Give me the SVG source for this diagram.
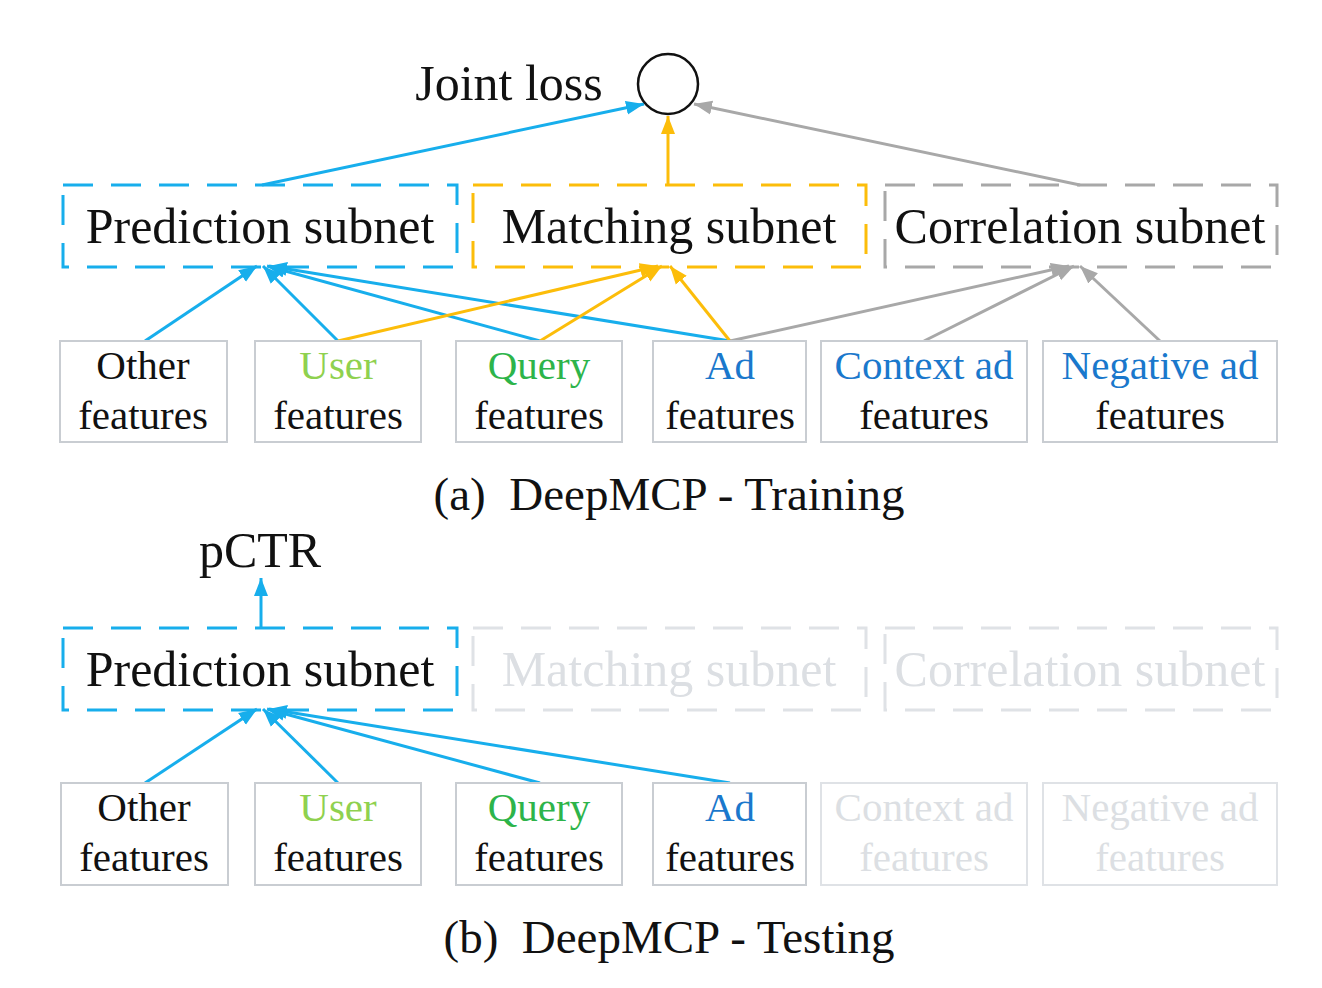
<svg xmlns="http://www.w3.org/2000/svg" width="1322" height="988" viewBox="0 0 1322 988">
<style>
text{font-family:"Liberation Serif","Times New Roman",serif;text-anchor:middle;fill:#111}
.big{font-size:50px}
.feat{font-size:41px}
.cap{font-size:47px}
.sub{fill:none;stroke-width:3;stroke-dasharray:30 18}
.fb{fill:#fff;stroke:#c9cdd2;stroke-width:2}
.fbg{fill:#fff;stroke:#dfe2e6;stroke-width:2}
.ghost{fill:#dcdfe3}
.b{stroke:#17aeec;stroke-width:3;fill:none}
.y{stroke:#fcbd0a;stroke-width:3;fill:none}
.g{stroke:#a8a8a8;stroke-width:3;fill:none}
</style>
<defs>
<marker id="ab" markerUnits="userSpaceOnUse" markerWidth="20" markerHeight="16" refX="18" refY="8" orient="auto"><path d="M0,1 L18,8 L0,15 Z" fill="#17aeec"/></marker>
<marker id="ay" markerUnits="userSpaceOnUse" markerWidth="20" markerHeight="16" refX="18" refY="8" orient="auto"><path d="M0,1 L18,8 L0,15 Z" fill="#fcbd0a"/></marker>
<marker id="ag" markerUnits="userSpaceOnUse" markerWidth="20" markerHeight="16" refX="18" refY="8" orient="auto"><path d="M0,1 L18,8 L0,15 Z" fill="#a8a8a8"/></marker>
</defs>
<rect width="1322" height="988" fill="#fff"/>

<g id="connectors">
<line class="b" x1="262" y1="185" x2="644" y2="104" marker-end="url(#ab)"/>
<line class="y" x1="668" y1="185" x2="668" y2="116" marker-end="url(#ay)"/>
<line class="g" x1="1080" y1="185" x2="694" y2="104" marker-end="url(#ag)"/>
<line class="b" x1="145" y1="341" x2="257" y2="266" marker-end="url(#ab)"/>
<line class="b" x1="338" y1="341" x2="263" y2="266" marker-end="url(#ab)"/>
<line class="b" x1="540" y1="341" x2="267" y2="266" marker-end="url(#ab)"/>
<line class="b" x1="730" y1="341" x2="269" y2="266" marker-end="url(#ab)"/>
<line class="y" x1="338" y1="341" x2="658" y2="266" marker-end="url(#ay)"/>
<line class="y" x1="540" y1="341" x2="662" y2="266" marker-end="url(#ay)"/>
<line class="y" x1="730" y1="341" x2="670" y2="266" marker-end="url(#ay)"/>
<line class="g" x1="730" y1="341" x2="1069" y2="266" marker-end="url(#ag)"/>
<line class="g" x1="924" y1="341" x2="1074" y2="266" marker-end="url(#ag)"/>
<line class="g" x1="1160" y1="341" x2="1080" y2="266" marker-end="url(#ag)"/>
<line class="b" x1="261" y1="628" x2="261" y2="578" marker-end="url(#ab)"/>
<line class="b" x1="145" y1="783" x2="257" y2="709" marker-end="url(#ab)"/>
<line class="b" x1="338" y1="783" x2="263" y2="709" marker-end="url(#ab)"/>
<line class="b" x1="540" y1="783" x2="267" y2="709" marker-end="url(#ab)"/>
<line class="b" x1="730" y1="783" x2="269" y2="709" marker-end="url(#ab)"/>
</g>

<g id="joint-loss">
<circle cx="668" cy="84" r="30" fill="#fff" stroke="#111" stroke-width="2.5"/>
<text class="big" x="509" y="100">Joint loss</text>
</g>

<g id="prediction-a"><rect class="sub" x="63" y="185" width="394" height="82" stroke="#17aeec"/><text class="big" x="260" y="243">Prediction subnet</text></g>
<g id="matching-a"><rect class="sub" x="473" y="185" width="393" height="82" stroke="#fcbd0a"/><text class="big" x="669" y="243">Matching subnet</text></g>
<g id="correlation-a"><rect class="sub" x="885" y="185" width="392" height="82" stroke="#a8a8a8"/><text class="big" x="1080" y="243">Correlation subnet</text></g>

<g id="other-a"><rect class="fb" x="60" y="341" width="167" height="101"/><text class="feat" x="143" y="379">Other</text><text class="feat" x="143" y="429">features</text></g>
<g id="user-a"><rect class="fb" x="255" y="341" width="166" height="101"/><text class="feat" x="338" y="379" style="fill:#8fd14f">User</text><text class="feat" x="338" y="429">features</text></g>
<g id="query-a"><rect class="fb" x="456" y="341" width="166" height="101"/><text class="feat" x="539" y="379" style="fill:#2db44a">Query</text><text class="feat" x="539" y="429">features</text></g>
<g id="ad-a"><rect class="fb" x="653" y="341" width="153" height="101"/><text class="feat" x="730" y="379" style="fill:#1a78cc">Ad</text><text class="feat" x="730" y="429">features</text></g>
<g id="context-a"><rect class="fb" x="821" y="341" width="206" height="101"/><text class="feat" x="924" y="379" style="fill:#1a78cc">Context ad</text><text class="feat" x="924" y="429">features</text></g>
<g id="negative-a"><rect class="fb" x="1043" y="341" width="234" height="101"/><text class="feat" x="1160" y="379" style="fill:#1a78cc">Negative ad</text><text class="feat" x="1160" y="429">features</text></g>

<text class="cap" x="669" y="510" xml:space="preserve">(a)  DeepMCP - Training</text>

<g id="pctr"><text class="big" x="260" y="567">pCTR</text></g>

<g id="prediction-b"><rect class="sub" x="63" y="628" width="394" height="82" stroke="#17aeec"/><text class="big" x="260" y="686">Prediction subnet</text></g>
<g id="matching-b"><rect class="sub" x="473" y="628" width="393" height="82" stroke="#dfe2e6"/><text class="big ghost" x="669" y="686">Matching subnet</text></g>
<g id="correlation-b"><rect class="sub" x="885" y="628" width="392" height="82" stroke="#dfe2e6"/><text class="big ghost" x="1080" y="686">Correlation subnet</text></g>

<g id="other-b"><rect class="fb" x="61" y="783" width="167" height="102"/><text class="feat" x="144" y="821">Other</text><text class="feat" x="144" y="871">features</text></g>
<g id="user-b"><rect class="fb" x="255" y="783" width="166" height="102"/><text class="feat" x="338" y="821" style="fill:#8fd14f">User</text><text class="feat" x="338" y="871">features</text></g>
<g id="query-b"><rect class="fb" x="456" y="783" width="166" height="102"/><text class="feat" x="539" y="821" style="fill:#2db44a">Query</text><text class="feat" x="539" y="871">features</text></g>
<g id="ad-b"><rect class="fb" x="653" y="783" width="153" height="102"/><text class="feat" x="730" y="821" style="fill:#1a78cc">Ad</text><text class="feat" x="730" y="871">features</text></g>
<g id="context-b"><rect class="fbg" x="821" y="783" width="206" height="102"/><text class="feat ghost" x="924" y="821">Context ad</text><text class="feat ghost" x="924" y="871">features</text></g>
<g id="negative-b"><rect class="fbg" x="1043" y="783" width="234" height="102"/><text class="feat ghost" x="1160" y="821">Negative ad</text><text class="feat ghost" x="1160" y="871">features</text></g>

<text class="cap" x="669" y="953" xml:space="preserve">(b)  DeepMCP - Testing</text>
</svg>
